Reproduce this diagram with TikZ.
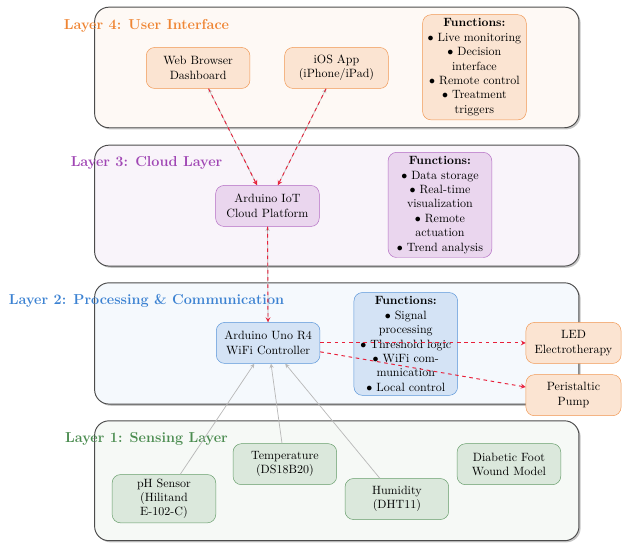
\documentclass[tikz,border=0pt]{standalone}
\usepackage{tikz}
\usetikzlibrary{shadows}

\definecolor{layerfour}{HTML}{EF8533}
\definecolor{layerthree}{HTML}{A046B4}
\definecolor{layertwo}{HTML}{3C82D2}
\definecolor{layerone}{HTML}{4B8C50}
\definecolor{ctrlred}{HTML}{E8203A}

\begin{document}
\begin{tikzpicture}[>=stealth,
	layerbox/.style={draw=black!70, thick, rounded corners=12pt,
		drop shadow={shadow xshift=1.4pt, shadow yshift=-1.4pt, opacity=0.45}},
	layertitle/.style={font=\large\bfseries},
	unit/.style={draw, thin, rounded corners=7pt, text width=2.8cm, align=center, minimum height=1.2cm},
	funcbox/.style={unit, minimum height=0pt},
	data/.style={->, gray!55, semithick},
	control/.style={->, ctrlred, thick, dashed},
	]
	
	\useasboundingbox (0,0) rectangle (18.21,15.87);
	
	% layer frames
	\draw[layerbox, fill=layerfour!5]  (2.77,12.13) rectangle (16.95,15.66); % user interface
	\draw[layerbox, fill=layerthree!6] (2.77,8.08) rectangle (16.95,11.62); % cloud
	\draw[layerbox, fill=layertwo!5]   (2.77,4.04) rectangle (16.95,7.59); % processing
	\draw[layerbox, fill=layerone!5]   (2.77,0.04) rectangle (16.95,3.55); % sensing
	
	\node[layertitle, text=layerfour]  (titlefour)  at (4.29,15.11) {Layer 4: User Interface};
	\node[layertitle, text=layerthree] (titlethree) at (4.29,11.10) {Layer 3: Cloud Layer};
	\node[layertitle, text=layertwo]   (titletwo)   at (4.29,7.07) {Layer 2: Processing \& Communication};
	\node[layertitle, text=layerone]   (titleone)   at (4.29,3.01) {Layer 1: Sensing Layer};
	
	% layer 4
	\node[unit, fill=layerfour!22, draw=layerfour!85] (web) at (5.80,13.88) {Web Browser\\Dashboard};
	\node[unit, fill=layerfour!22, draw=layerfour!85] (ios) at (9.85,13.88) {iOS App\\(iPhone/iPad)};
	\node[funcbox, fill=layerfour!22, draw=layerfour!85] (funcfour) at (13.89,13.90)
		{\textbf{Functions:}\\ $\bullet$ Live monitoring\\ $\bullet$ Decision interface\\ $\bullet$ Remote control\\ $\bullet$ Treatment triggers};
	
	% layer 3
	\node[unit, fill=layerthree!22, draw=layerthree!80] (cloud) at (7.83,9.84) {Arduino IoT\\Cloud Platform};
	\node[funcbox, fill=layerthree!22, draw=layerthree!80] (functhree) at (12.88,9.87)
		{\textbf{Functions:}\\ $\bullet$ Data storage\\ $\bullet$ Real-time visualization\\ $\bullet$ Remote actuation\\ $\bullet$ Trend analysis};
	
	% layer 2
	\node[unit, fill=layertwo!22, draw=layertwo!85] (uno) at (7.85,5.83) {Arduino Uno R4\\WiFi Controller};
	\node[funcbox, fill=layertwo!22, draw=layertwo!85] (functwo) at (11.88,5.80)
		{\textbf{Functions:}\\ $\bullet$ Signal processing\\ $\bullet$ Threshold logic\\ $\bullet$ WiFi communication\\ $\bullet$ Local control};
	\node[unit, text width=2.55cm, fill=layerfour!22, draw=layerfour!85] (led) at (16.79,5.83) {LED\\Electrotherapy};
	\node[unit, text width=2.55cm, fill=layerfour!22, draw=layerfour!85] (pump) at (16.79,4.30) {Peristaltic\\Pump};
	
	% layer 1
	\node[unit, fill=layerone!20, draw=layerone!85] (temp) at (8.34,2.28) {Temperature\\(DS18B20)};
	\node[unit, fill=layerone!20, draw=layerone!85] (wound) at (14.90,2.28) {Diabetic Foot\\Wound Model};
	\node[unit, fill=layerone!20, draw=layerone!85] (ph) at (4.80,1.27) {pH Sensor\\(Hilitand\\E-102-C)};
	\node[unit, fill=layerone!20, draw=layerone!85] (hum) at (11.62,1.26) {Humidity\\(DHT11)};
	
	% data flow
	\draw[data] (ph) -- (uno);
	\draw[data] (temp) -- (uno);
	\draw[data] (hum) -- (uno);
	\draw[data] (uno) -- (cloud);
	\draw[data] (cloud) -- (web);
	\draw[data] (cloud) -- (ios);
	
	% control flow
	\draw[control] (web) -- (cloud);
	\draw[control] (ios) -- (cloud);
	\draw[control] (cloud) -- (uno);
	\draw[control] (uno) -- (led);
	\draw[control] (uno) -- (pump);
	
\end{tikzpicture}
\end{document}
